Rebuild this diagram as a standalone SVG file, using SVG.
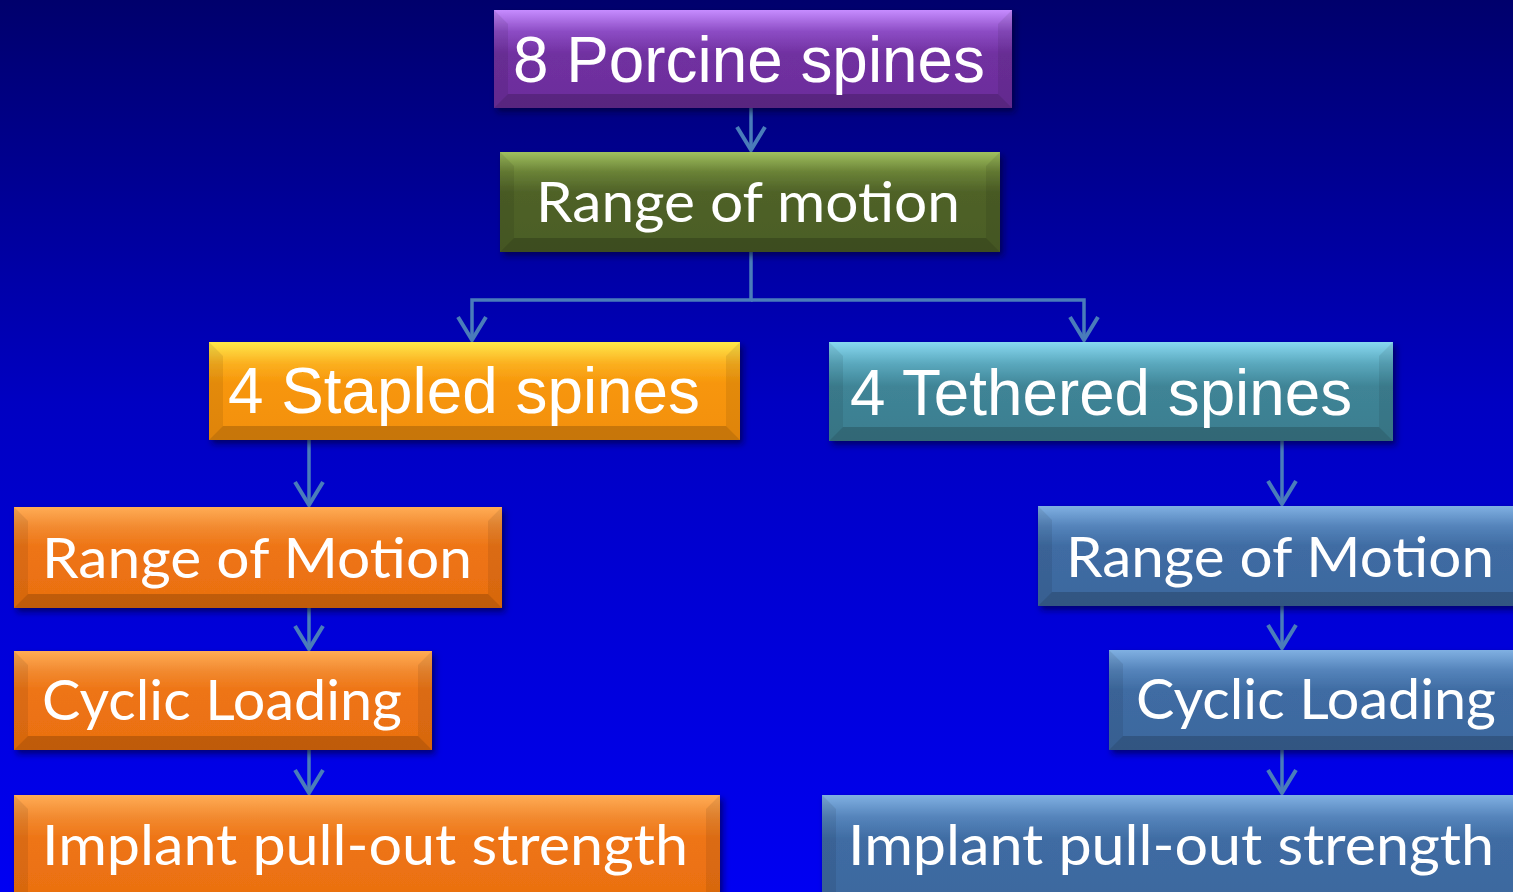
<svg xmlns="http://www.w3.org/2000/svg" width="1513" height="892" viewBox="0 0 1513 892">
<defs>
<linearGradient id="bg" x1="0" y1="0" x2="0" y2="1">
<stop offset="0" stop-color="#00006c"/>
<stop offset="0.45" stop-color="#0000c2"/>
<stop offset="1" stop-color="#0000f2"/>
</linearGradient>
<linearGradient id="gPurple" x1="0" y1="0" x2="0" y2="1">
<stop offset="0" stop-color="#c68cff"/><stop offset="0.22" stop-color="#8c4cc4"/><stop offset="0.45" stop-color="#7030a0"/><stop offset="1" stop-color="#6c2e9c"/>
</linearGradient>
<linearGradient id="gGreen" x1="0" y1="0" x2="0" y2="1">
<stop offset="0" stop-color="#a0c060"/><stop offset="0.2" stop-color="#6a8236"/><stop offset="0.4" stop-color="#4f6228"/><stop offset="1" stop-color="#4b5d26"/>
</linearGradient>
<linearGradient id="gStapled" x1="0" y1="0" x2="0" y2="1">
<stop offset="0" stop-color="#ffe84a"/><stop offset="0.22" stop-color="#fbb020"/><stop offset="0.42" stop-color="#f7960a"/><stop offset="1" stop-color="#f39008"/>
</linearGradient>
<linearGradient id="gTeth" x1="0" y1="0" x2="0" y2="1">
<stop offset="0" stop-color="#88d8f0"/><stop offset="0.22" stop-color="#5aa8bd"/><stop offset="0.45" stop-color="#3f8496"/><stop offset="1" stop-color="#3c7e90"/>
</linearGradient>
<linearGradient id="gOrange" x1="0" y1="0" x2="0" y2="1">
<stop offset="0" stop-color="#ffac55"/><stop offset="0.2" stop-color="#f28a30"/><stop offset="0.4" stop-color="#ee7414"/><stop offset="1" stop-color="#ea7010"/>
</linearGradient>
<linearGradient id="gSteel" x1="0" y1="0" x2="0" y2="1">
<stop offset="0" stop-color="#80b0e2"/><stop offset="0.2" stop-color="#5584bb"/><stop offset="0.4" stop-color="#3f6ca3"/><stop offset="1" stop-color="#3d689e"/>
</linearGradient>
<filter id="sh" x="-5%" y="-10%" width="110%" height="130%">
<feDropShadow dx="3" dy="4" stdDeviation="3" flood-color="#000020" flood-opacity="0.55"/>
</filter>
<marker id="arr" viewBox="0 0 28 32" refX="25" refY="16" markerWidth="28" markerHeight="32" markerUnits="userSpaceOnUse" orient="auto" overflow="visible">
<path d="M2,2 L25,16 L2,30" fill="none" stroke="#4a7cba" stroke-width="4"/>
</marker>
</defs>
<style>
.box{filter:url(#sh);}
.bt{fill:#ffffff;opacity:0.12;}
.bb{fill:#000000;opacity:0.18;}
.bs{fill:#000000;opacity:0.08;}
.a{font-family:"Liberation Sans",Arial,sans-serif;font-size:64px;fill:#ffffff;}
.c{font-family:Lato,"Open Sans",sans-serif;font-size:56px;fill:#ffffff;}
.con{fill:none;stroke:#4a7cba;stroke-width:3.5;marker-end:url(#arr);}
</style>
<rect x="0" y="0" width="1513" height="892" fill="url(#bg)"/>

<g id="connectors">
<path class="con" d="M751,108 V150"/>
<path class="con" d="M751,252 V300 H472 V340"/>
<path class="con" d="M751,300 H1084 V340"/>
<path class="con" d="M309,440 V505"/>
<path class="con" d="M309,608 V649"/>
<path class="con" d="M309,750 V793"/>
<path class="con" d="M1282,441 V504"/>
<path class="con" d="M1282,606 V648"/>
<path class="con" d="M1282,750 V793"/>
</g>

<g id="n1">
<rect class="box" x="494" y="10" width="518" height="98" fill="url(#gPurple)"/>
<polygon class="bs" points="494,10 508,24 508,94 494,108"/>
<polygon class="bs" points="1012,10 998,24 998,94 1012,108"/>
<polygon class="bb" points="494,108 1012,108 998,94 508,94"/>
<text class="a" x="513" y="82" textLength="472" lengthAdjust="spacingAndGlyphs">8 Porcine spines</text>
</g>

<g id="n2">
<rect class="box" x="500" y="152" width="500" height="100" fill="url(#gGreen)"/>
<polygon class="bs" points="500,152 514,166 514,238 500,252"/>
<polygon class="bs" points="1000,152 986,166 986,238 1000,252"/>
<polygon class="bb" points="500,252 1000,252 986,238 514,238"/>
<text class="c" x="536" y="222" font-size="58" textLength="424" lengthAdjust="spacingAndGlyphs">Range of motion</text>
</g>

<g id="n3">
<rect class="box" x="209" y="342" width="531" height="98" fill="url(#gStapled)"/>
<polygon class="bs" points="209,342 223,356 223,426 209,440"/>
<polygon class="bs" points="740,342 726,356 726,426 740,440"/>
<polygon class="bb" points="209,440 740,440 726,426 223,426"/>
<text class="a" x="228" y="413" textLength="472" lengthAdjust="spacingAndGlyphs">4 Stapled spines</text>
</g>

<g id="n4">
<rect class="box" x="829" y="342" width="564" height="99" fill="url(#gTeth)"/>
<polygon class="bs" points="829,342 843,356 843,427 829,441"/>
<polygon class="bs" points="1393,342 1379,356 1379,427 1393,441"/>
<polygon class="bb" points="829,441 1393,441 1379,427 843,427"/>
<text class="a" x="850" y="415" textLength="502" lengthAdjust="spacingAndGlyphs">4 Tethered spines</text>
</g>

<g id="n5">
<rect class="box" x="14" y="507" width="488" height="101" fill="url(#gOrange)"/>
<polygon class="bs" points="14,507 28,521 28,594 14,608"/>
<polygon class="bs" points="502,507 488,521 488,594 502,608"/>
<polygon class="bb" points="14,608 502,608 488,594 28,594"/>
<text class="c" x="42" y="578" textLength="430" lengthAdjust="spacingAndGlyphs">Range of Motion</text>
</g>

<g id="n6">
<rect class="box" x="14" y="651" width="418" height="99" fill="url(#gOrange)"/>
<polygon class="bs" points="14,651 28,665 28,736 14,750"/>
<polygon class="bs" points="432,651 418,665 418,736 432,750"/>
<polygon class="bb" points="14,750 432,750 418,736 28,736"/>
<text class="c" x="42" y="720" textLength="360" lengthAdjust="spacingAndGlyphs">Cyclic Loading</text>
</g>

<g id="n7">
<rect class="box" x="14" y="795" width="706" height="110" fill="url(#gOrange)"/>
<polygon class="bs" points="14,795 28,809 28,892 14,892"/>
<polygon class="bs" points="720,795 706,809 706,892 720,892"/>
<text class="c" x="42" y="865" textLength="646" lengthAdjust="spacingAndGlyphs">Implant pull-out strength</text>
</g>

<g id="n8">
<rect class="box" x="1038" y="506" width="490" height="100" fill="url(#gSteel)"/>
<polygon class="bs" points="1038,506 1052,520 1052,592 1038,606"/>
<polygon class="bb" points="1038,606 1528,606 1514,592 1052,592"/>
<text class="c" x="1066" y="577" textLength="428" lengthAdjust="spacingAndGlyphs">Range of Motion</text>
</g>

<g id="n9">
<rect class="box" x="1109" y="650" width="420" height="100" fill="url(#gSteel)"/>
<polygon class="bs" points="1109,650 1123,664 1123,736 1109,750"/>
<polygon class="bb" points="1109,750 1529,750 1515,736 1123,736"/>
<text class="c" x="1136" y="719" textLength="360" lengthAdjust="spacingAndGlyphs">Cyclic Loading</text>
</g>

<g id="n10">
<rect class="box" x="822" y="795" width="710" height="110" fill="url(#gSteel)"/>
<polygon class="bs" points="822,795 836,809 836,892 822,892"/>
<text class="c" x="848" y="865" textLength="646" lengthAdjust="spacingAndGlyphs">Implant pull-out strength</text>
</g>
</svg>
